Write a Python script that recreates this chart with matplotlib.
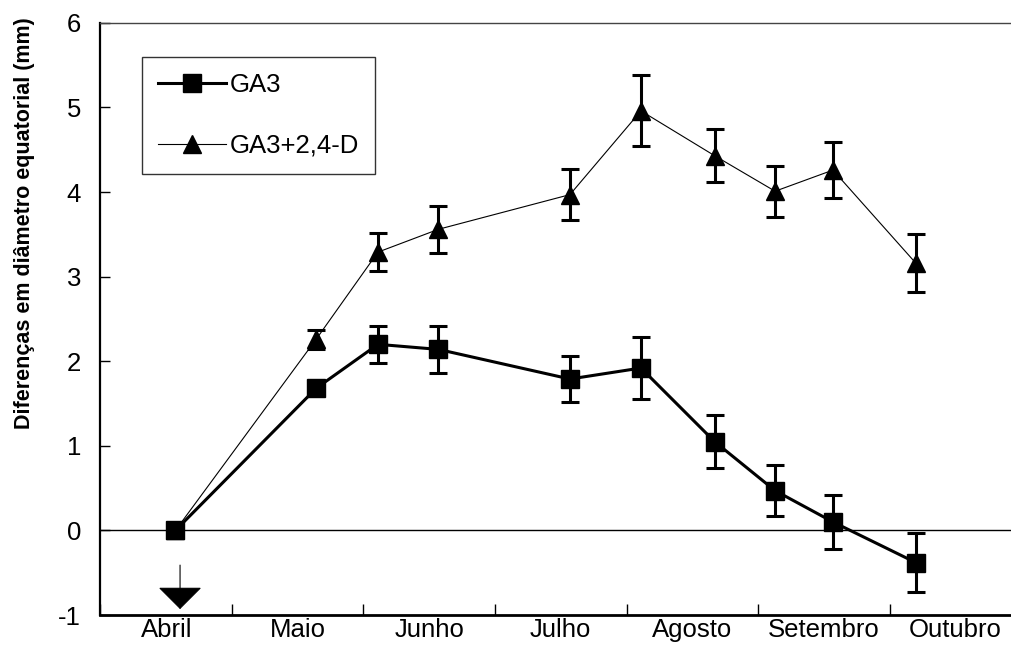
import numpy as np
import matplotlib
matplotlib.use('Agg')
import matplotlib.pyplot as plt
from matplotlib.lines import Line2D

plt.rcParams['font.family'] = ['Liberation Sans', 'DejaVu Sans']
plt.rcParams['axes.unicode_minus'] = False

# Dados (posição em meses a partir de 1 de abril)
meses = ['Abril', 'Maio', 'Junho', 'Julho', 'Agosto', 'Setembro', 'Outubro']
posicao = [0.57, 1.64, 2.11, 2.57, 3.57, 4.11, 4.67, 5.13, 5.57, 6.20]

ga3 = [0.0, 1.68, 2.20, 2.14, 1.79, 1.92, 1.05, 0.47, 0.10, -0.38]
ga3_erro = [0.0, 0.05, 0.22, 0.28, 0.27, 0.37, 0.31, 0.30, 0.32, 0.345]

ga3_24d = [0.0, 2.26, 3.29, 3.56, 3.97, 4.96, 4.43, 4.01, 4.26, 3.16]
ga3_24d_erro = [0.0, 0.11, 0.225, 0.28, 0.30, 0.42, 0.31, 0.30, 0.33, 0.34]

# Figura
fig = plt.figure(figsize=(10.12, 6.45), dpi=100)
ax = fig.add_axes([0.0993, 0.0465, 0.9096, 0.918])

# Linha do zero
ax.axhline(0, color='black', lw=1.0, zorder=1)

# GA3+2,4-D (linha fina, triângulos)
ax.errorbar(posicao, ga3_24d, yerr=ga3_24d_erro, color='black', lw=0.8,
            marker='^', markersize=13.3, ecolor='black', elinewidth=2.2,
            capsize=6.7, capthick=2.2, zorder=3)

# GA3 (linha grossa, quadrados)
ax.errorbar(posicao, ga3, yerr=ga3_erro, color='black', lw=2.2,
            marker='s', markersize=13.2, ecolor='black', elinewidth=2.2,
            capsize=6.7, capthick=2.2, zorder=4)

# Seta em abril
ax.annotate('', xy=(0.605, -0.93), xytext=(0.605, -0.41),
            arrowprops=dict(arrowstyle='-|>,head_length=1.0,head_width=1.0',
                            mutation_scale=14.4, color='black', lw=0.8,
                            shrinkA=0, shrinkB=0))

# Eixos
ax.set_xlim(0, 7)
ax.set_ylim(-1, 6)
ax.set_xticks(np.arange(0, 8))
ax.set_xticklabels([])
ax.set_xticks(np.arange(len(meses)) + 0.5, minor=True)
ax.set_xticklabels(meses, minor=True, fontsize=18.5)
ax.tick_params(axis='x', which='major', direction='in', length=8, width=1)
ax.tick_params(axis='x', which='minor', length=0, pad=2)
ax.set_yticks(np.arange(-1, 7))
ax.tick_params(axis='y', direction='in', length=7, width=1, pad=14, labelsize=18.5)

ax.set_ylabel('Diferenças em diâmetro equatorial (mm)', fontsize=15.5,
              fontweight='bold')
ax.yaxis.set_label_coords(-0.071, 0.662)

ax.spines['left'].set_linewidth(1.6)
ax.spines['bottom'].set_linewidth(2.0)
ax.spines['top'].set_linewidth(1.0)
ax.spines['top'].set_color('#444444')
ax.spines['right'].set_visible(False)

# Legenda (sem barras de erro)
handles = [Line2D([], [], color='black', lw=2.2, marker='s', markersize=13.2),
           Line2D([], [], color='black', lw=0.8, marker='^', markersize=13.3)]
leg = ax.legend(handles, ['GA3', 'GA3+2,4-D'], loc='upper left',
                bbox_to_anchor=(0.0448, 0.943), borderaxespad=0,
                fontsize=18.5, handlelength=2.65, handletextpad=0.14,
                labelspacing=1.44, borderpad=0.62, fancybox=False,
                edgecolor='#333333', framealpha=1)
leg.get_frame().set_linewidth(1.0)

fig.savefig('out.png', dpi=100)
